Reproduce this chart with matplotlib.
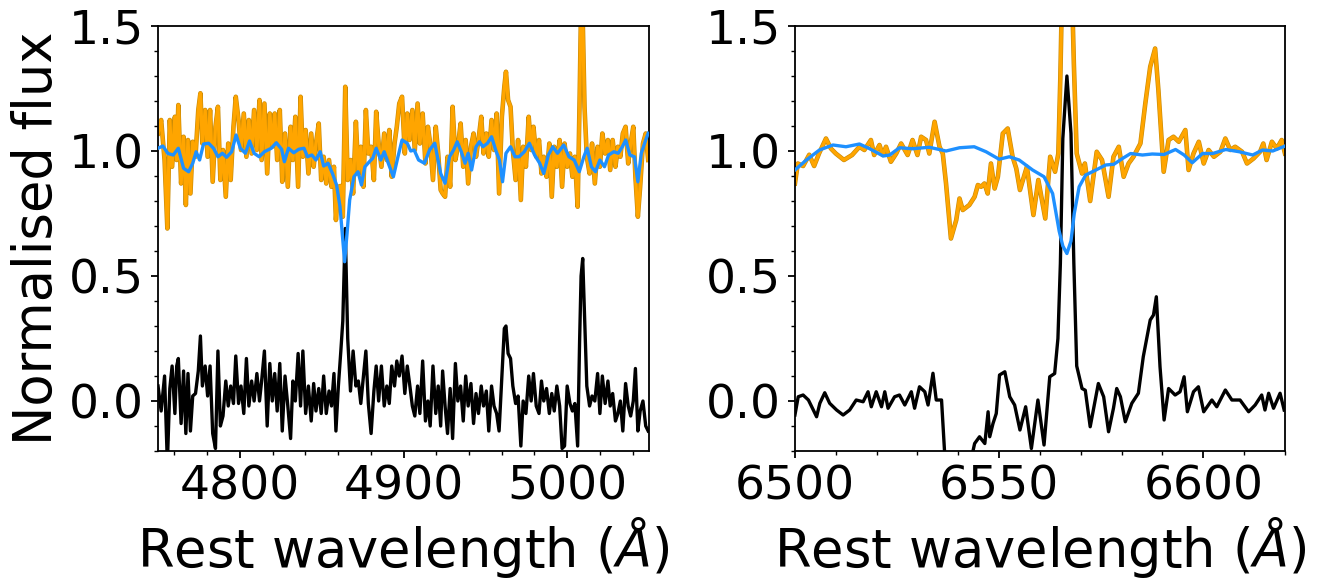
"""
Stellar-continuum fit around H-beta and H-alpha: observed spectrum, model and residual.
"""

import numpy as np
import matplotlib
matplotlib.use("Agg")
import matplotlib.pyplot as plt
import matplotlib.patheffects as pe
from matplotlib.ticker import MultipleLocator

# ---- H-beta / [OIII] window ----
wl_hb = [
    4750.0, 4751.9, 4754.0, 4755.7, 4757.2, 4758.6, 4760.3, 4761.4, 4762.4, 4764.1,
    4765.6, 4767.0, 4768.3, 4769.8, 4771.2, 4772.9, 4774.6, 4775.9, 4777.1, 4778.8,
    4780.3, 4781.8, 4783.4, 4785.1, 4786.6, 4788.1, 4789.7, 4791.4, 4792.9, 4794.4,
    4796.1, 4797.5, 4799.2, 4800.7, 4802.4, 4804.0, 4805.5, 4807.2, 4808.7, 4810.4,
    4812.0, 4813.3, 4815.0, 4816.7, 4818.3, 4819.8, 4821.3, 4822.8, 4824.4, 4825.9,
    4827.6, 4829.3, 4831.0, 4832.4, 4833.9, 4835.6, 4837.1, 4838.5, 4840.2, 4841.9,
    4843.6, 4845.1, 4846.5, 4848.2, 4849.7, 4851.2, 4852.8, 4854.5, 4856.0, 4857.5,
    4858.7, 4860.2, 4861.7, 4862.9, 4864.4, 4865.9, 4867.6, 4869.2, 4870.9, 4872.4,
    4873.9, 4875.5, 4877.0, 4878.5, 4880.2, 4881.9, 4883.3, 4884.8, 4886.5, 4888.2,
    4889.8, 4891.3, 4892.8, 4894.5, 4895.9, 4897.4, 4899.1, 4900.8, 4902.3, 4903.7,
    4905.4, 4906.9, 4908.6, 4910.0, 4911.7, 4913.4, 4914.9, 4916.3, 4918.0, 4919.7,
    4921.2, 4922.7, 4923.9, 4925.4, 4926.9, 4928.5, 4930.0, 4931.7, 4933.2, 4934.9,
    4936.5, 4938.0, 4939.5, 4941.2, 4942.8, 4944.3, 4945.8, 4947.5, 4948.9, 4950.6,
    4952.1, 4953.8, 4955.3, 4956.9, 4958.4, 4960.1, 4961.6, 4962.6, 4963.9, 4965.4,
    4966.8, 4968.5, 4970.0, 4971.7, 4973.1, 4974.8, 4976.5, 4978.0, 4979.4, 4981.1,
    4982.8, 4984.3, 4985.7, 4987.4, 4989.1, 4990.6, 4992.1, 4993.7, 4995.4, 4996.9,
    4998.4, 5000.0, 5001.7, 5003.2, 5004.7, 5006.4, 5007.6, 5008.5, 5009.5, 5010.6,
    5012.0, 5013.7, 5015.2, 5016.9, 5018.6, 5020.0, 5021.5, 5023.2, 5024.9, 5026.3,
    5027.8, 5029.5, 5031.0, 5032.5, 5034.0, 5035.7, 5037.3, 5038.8, 5040.4, 5041.7,
    5043.2, 5044.6, 5046.3, 5048.0, 5049.5,
]
flux_hb = [
    1.07, 1.124, 0.964, 0.69, 1.124, 0.937, 1.137, 0.964, 1.184, 0.87,
    1.057, 0.784, 1.044, 0.83, 1.037, 0.977, 1.164, 1.231, 1.03, 1.164,
    0.977, 1.164, 0.877, 1.097, 1.177, 0.884, 1.004, 0.817, 1.03, 0.884,
    1.097, 1.217, 1.124, 1.004, 1.15, 0.977, 1.124, 0.99, 1.164, 1.004,
    1.204, 0.964, 1.19, 0.91, 1.15, 1.017, 1.15, 0.964, 1.164, 0.877,
    1.07, 0.857, 1.097, 0.964, 1.137, 0.857, 1.217, 0.977, 1.084, 0.91,
    1.07, 0.937, 1.03, 1.11, 0.884, 0.977, 0.87, 0.964, 0.857, 0.937,
    0.724, 0.857, 0.86, 0.737, 1.257, 0.884, 0.964, 0.83, 1.117, 0.91,
    1.017, 0.857, 1.164, 0.99, 1.017, 0.884, 1.157, 1.03, 0.937, 1.07,
    0.964, 1.084, 0.897, 1.03, 1.097, 1.19, 1.217, 0.99, 1.15, 1.044,
    1.164, 1.004, 1.19, 1.03, 1.15, 0.95, 1.097, 1.03, 0.884, 1.097,
    0.99, 0.844, 0.83, 0.817, 0.977, 0.857, 1.177, 0.964, 1.017, 1.11,
    0.937, 1.044, 0.87, 1.017, 1.07, 0.977, 1.044, 1.137, 0.99, 1.07,
    0.977, 1.124, 1.004, 1.15, 0.83, 1.137, 1.257, 1.317, 1.204, 1.177,
    1.004, 0.884, 1.044, 0.804, 1.017, 0.937, 1.137, 1.004, 1.097, 0.977,
    1.044, 0.91, 0.977, 0.897, 1.03, 0.817, 1.017, 0.937, 1.044, 0.857,
    1.03, 0.937, 0.99, 0.897, 0.977, 0.777, 1.204, 1.58, 1.53, 1.177,
    0.977, 0.91, 1.03, 0.87, 1.017, 0.937, 1.07, 0.99, 1.044, 0.924,
    1.044, 0.937, 1.017, 0.977, 1.07, 1.097, 0.95, 1.03, 1.097, 0.897,
    0.737, 0.857, 1.03, 1.07, 0.964,
]
resid_hb = [
    0.06, -0.04, 0.10, -0.25, 0.05, 0.14, -0.05, 0.14, 0.17, -0.09,
    0.12, -0.13, 0.11, -0.12, 0.02, 0.03, 0.12, 0.26, 0.06, 0.14,
    0.02, 0.14, -0.13, -0.19, 0.20, -0.10, -0.06, 0.08, -0.02, 0.06,
    -0.01, 0.18, -0.01, 0.06, -0.05, 0.17, -0.02, 0.08, 0.0, 0.11,
    0.0, 0.08, 0.20, -0.10, 0.15, 0.0, 0.11, -0.04, 0.15, -0.12,
    0.10, -0.02, -0.15, 0.08, 0.0, 0.19, -0.02, 0.20, -0.05, 0.06,
    -0.08, 0.07, -0.04, 0.05, -0.05, 0.10, -0.05, 0.04, -0.02, 0.11,
    -0.12, 0.06, 0.20, 0.32, 0.69, 0.25, 0.04, 0.20, 0.06, 0.08,
    -0.01, 0.10, 0.20, -0.01, -0.13, 0.04, 0.14, 0.0, 0.14, -0.02,
    0.06, -0.01, 0.14, 0.06, 0.16, 0.10, 0.18, 0.03, 0.14, 0.07,
    -0.02, -0.06, 0.06, -0.05, 0.16, -0.08, 0.0, -0.10, 0.14, -0.05,
    0.06, -0.10, 0.12, -0.02, -0.13, 0.05, -0.15, 0.15, 0.0, 0.06,
    -0.08, 0.10, -0.02, 0.07, -0.09, 0.03, -0.05, 0.06, -0.02, 0.04,
    -0.12, 0.06, -0.02, -0.05, -0.12, 0.10, 0.29, 0.30, 0.19, 0.17,
    0.06, -0.01, 0.02, -0.18, 0.0, -0.05, 0.10, 0.0, 0.11, -0.02,
    -0.05, 0.08, 0.0, 0.05, -0.05, 0.03, -0.04, 0.06, -0.02, -0.19,
    -0.18, 0.06, -0.01, -0.04, -0.01, -0.18, 0.24, 0.50, 0.57, 0.35,
    0.06, -0.02, 0.02, 0.0, 0.11, -0.05, 0.10, -0.01, 0.08, -0.02,
    0.03, -0.08, -0.05, 0.0, -0.12, 0.07, -0.02, -0.06, 0.0, 0.13,
    -0.12, -0.04, 0.0, -0.10, -0.12,
]
wl_hb_model = [
    4750.0, 4752.9, 4756.1, 4759.3, 4762.4, 4765.6, 4768.7, 4771.2, 4773.3, 4775.4,
    4777.8, 4780.9, 4783.9, 4786.6, 4789.3, 4791.9, 4795.0, 4797.7, 4800.3, 4803.4,
    4805.9, 4808.7, 4811.8, 4815.0, 4819.2, 4822.3, 4825.5, 4827.2, 4829.7, 4832.9,
    4836.0, 4839.2, 4841.3, 4844.0, 4846.5, 4849.1, 4851.2, 4853.9, 4856.6, 4859.1,
    4861.2, 4862.9, 4864.0, 4865.5, 4867.1, 4869.7, 4872.2, 4874.3, 4876.4, 4879.1,
    4881.2, 4883.3, 4886.1, 4888.2, 4890.7, 4893.8, 4896.6, 4899.1, 4902.3, 4904.4,
    4906.5, 4909.2, 4912.8, 4915.9, 4919.1, 4922.7, 4925.4, 4928.1, 4930.6, 4932.8,
    4935.3, 4937.6, 4939.5, 4941.6, 4944.3, 4946.4, 4948.5, 4951.3, 4953.8, 4956.3,
    4958.6, 4960.5, 4962.6, 4965.4, 4968.1, 4970.6, 4973.8, 4976.9, 4980.1, 4983.2,
    4985.7, 4988.5, 4991.2, 4994.1, 4997.9, 5001.1, 5004.3, 5007.4, 5010.2, 5012.2,
    5014.8, 5017.3, 5020.0, 5022.8, 5025.3, 5028.5, 5031.2, 5033.7, 5035.8, 5038.3,
    5041.1, 5043.2, 5045.3, 5048.0, 5049.5,
]
model_hb = [
    1.011, 1.02, 0.99, 0.984, 1.011, 0.931, 0.917, 0.951, 0.997, 0.964,
    1.028, 1.031, 1.011, 0.977, 0.991, 0.975, 0.997, 1.064, 1.011, 0.991,
    1.04, 0.991, 0.977, 0.997, 1.011, 1.033, 1.007, 0.957, 1.011, 0.993,
    1.007, 1.011, 0.977, 0.984, 0.964, 0.997, 0.94, 0.951, 0.91, 0.864,
    0.777, 0.644, 0.557, 0.671, 0.804, 0.897, 0.917, 0.864, 0.937, 0.957,
    0.971, 1.011, 0.964, 0.997, 0.951, 0.897, 0.977, 1.044, 1.031, 1.0,
    1.004, 0.964, 0.951, 1.004, 1.031, 0.91, 0.871, 0.977, 1.004, 1.037,
    0.997, 0.951, 0.991, 0.924, 1.017, 1.037, 1.017, 1.031, 1.057, 1.004,
    0.964, 0.877, 0.991, 1.017, 0.977, 0.977, 0.997, 1.031, 0.984, 0.951,
    0.91, 0.984, 1.017, 0.991, 1.024, 0.977, 0.964, 0.917, 0.977, 1.011,
    0.937, 0.917, 0.964, 0.937, 0.984, 0.997, 0.991, 1.017, 1.044, 0.984,
    0.977, 0.877, 0.991, 1.044, 1.071,
]

# ---- H-alpha / [NII] window ----
wl_ha = [
    6500.0, 6500.7, 6502.0, 6503.5, 6504.7, 6505.9, 6507.6, 6508.8, 6510.0, 6512.0,
    6514.0, 6515.8, 6517.0, 6518.6, 6519.4, 6520.7, 6521.5, 6522.3, 6523.5, 6524.8,
    6526.0, 6527.6, 6528.8, 6530.0, 6530.9, 6532.1, 6532.9, 6534.2, 6535.4, 6536.2,
    6537.0, 6538.2, 6539.5, 6540.3, 6541.1, 6542.7, 6544.0, 6544.8, 6545.6, 6546.4,
    6547.2, 6548.0, 6548.9, 6549.7, 6550.9, 6552.1, 6553.3, 6554.2, 6555.1, 6556.8,
    6558.4, 6559.6, 6561.3, 6562.5, 6563.7, 6564.5, 6565.0, 6565.6, 6566.6, 6567.6,
    6568.3, 6569.0, 6570.3, 6571.0, 6572.3, 6573.9, 6575.2, 6576.8, 6578.0, 6579.3,
    6580.5, 6581.7, 6582.9, 6584.6, 6585.8, 6587.0, 6588.2, 6589.0, 6590.3, 6591.5,
    6592.7, 6594.0, 6595.6, 6596.4, 6597.6, 6598.9, 6600.1, 6601.3, 6602.6, 6604.2,
    6605.4, 6606.6, 6607.8, 6609.5, 6610.7, 6612.3, 6613.9, 6614.7, 6615.5, 6616.8,
    6618.0, 6619.2, 6620.0,
]
flux_ha = [
    0.87, 0.95, 0.94, 0.985, 0.94, 0.99, 1.05, 1.01, 0.99, 0.964,
    0.984, 1.017, 1.004, 1.044, 0.984, 1.024, 0.984, 1.017, 0.957, 0.99,
    1.03, 0.984, 1.044, 0.984, 1.057, 1.044, 0.99, 1.117, 1.017, 0.99,
    0.87, 0.65, 0.724, 0.81, 0.764, 0.784, 0.817, 0.864, 0.857, 0.87,
    0.83, 0.95, 0.85, 0.897, 1.07, 1.09, 0.977, 0.93, 0.844, 0.937,
    0.744, 0.884, 0.73, 0.977, 0.917, 0.99, 1.30, 1.80, 1.90, 1.80,
    1.35, 0.99, 0.91, 0.95, 0.80, 0.997, 0.964, 0.817, 0.977, 1.017,
    0.897, 0.95, 0.977, 1.03, 1.19, 1.337, 1.41, 1.244, 0.917, 1.044,
    1.057, 1.037, 1.084, 0.924, 0.99, 1.037, 0.95, 1.004, 0.977, 0.997,
    1.05, 1.004, 1.017, 0.997, 0.95, 0.97, 0.997, 1.03, 0.964, 1.037,
    1.01, 1.044, 0.99,
]
wl_ha_res = [
    6500.0, 6500.8, 6502.0, 6503.3, 6504.5, 6505.3, 6506.1, 6507.3, 6508.5, 6510.2,
    6511.8, 6513.4, 6515.0, 6516.7, 6517.9, 6518.7, 6519.9, 6521.2, 6522.0, 6522.8,
    6524.4, 6525.6, 6526.9, 6528.5, 6529.3, 6530.5, 6531.8, 6532.6, 6533.8, 6534.6,
    6535.9, 6536.7, 6538.2, 6539.5, 6540.3, 6541.1, 6542.7, 6543.6, 6544.0, 6545.2,
    6546.5, 6547.3, 6547.7, 6548.5, 6549.3, 6550.1, 6551.4, 6552.6, 6553.8, 6555.1,
    6556.5, 6557.9, 6559.5, 6561.0, 6562.4, 6563.6, 6564.4, 6565.0, 6565.6, 6566.6,
    6567.6, 6568.3, 6569.0, 6570.3, 6571.1, 6572.3, 6574.3, 6575.6, 6576.8, 6578.0,
    6578.8, 6579.7, 6580.9, 6582.5, 6584.1, 6585.3, 6587.0, 6587.8, 6588.5, 6589.4,
    6590.4, 6591.5, 6593.1, 6594.3, 6595.3, 6596.1, 6597.6, 6598.8, 6600.1, 6602.1,
    6603.3, 6605.4, 6607.0, 6609.0, 6611.1, 6612.7, 6614.3, 6615.1, 6616.0, 6617.2,
    6618.8, 6619.8,
]
resid_ha = [
    -0.056, 0.017, 0.024, 0.004, -0.036, -0.063, -0.009, 0.033, -0.009, -0.036,
    -0.056, -0.036, 0.004, -0.003, 0.037, -0.023, 0.037, -0.023, 0.037, -0.029,
    0.017, 0.024, -0.016, 0.037, -0.029, 0.057, 0.037, -0.016, 0.111, 0.004,
    0.004, -0.22, -0.35, -0.29, -0.22, -0.25, -0.23, -0.20, -0.17, -0.143,
    -0.17, -0.043, -0.143, -0.09, -0.05, 0.104, 0.117, 0.017, -0.016, -0.116,
    -0.023, -0.19, 0.004, -0.176, 0.097, 0.11, 0.25, 0.55, 1.05, 1.30,
    1.07, 0.55, 0.14, 0.05, 0.043, -0.103, 0.07, 0.017, -0.123, -0.029,
    0.05, 0.017, -0.083, -0.009, 0.031, 0.177, 0.324, 0.344, 0.417, 0.137,
    -0.076, 0.05, 0.024, 0.037, 0.097, -0.043, 0.037, 0.057, -0.043, 0.004,
    -0.023, 0.044, 0.004, 0.004, -0.043, -0.016, 0.024, -0.036, 0.031, -0.029,
    0.031, -0.036,
]
wl_ha_model = [
    6500.0, 6502.8, 6506.0, 6509.3, 6512.5, 6515.8, 6518.2, 6521.6, 6523.2, 6525.6,
    6528.8, 6532.9, 6537.0, 6540.3, 6543.9, 6546.8, 6550.0, 6552.5, 6554.9, 6558.2,
    6561.0, 6563.1, 6564.7, 6565.6, 6566.6, 6567.6, 6568.4, 6569.6, 6571.2, 6573.7,
    6576.1, 6578.1, 6580.2, 6582.2, 6585.1, 6587.5, 6590.4, 6593.2, 6595.3, 6597.3,
    6599.8, 6602.3, 6605.5, 6608.8, 6612.1, 6614.5, 6617.0, 6619.6, 6620.0,
]
model_ha = [
    0.924, 0.964, 1.004, 1.024, 1.017, 1.028, 1.01, 0.98, 0.984, 1.013,
    1.009, 1.015, 1.0, 1.013, 1.017, 0.997, 0.967, 0.977, 0.964, 0.924,
    0.897, 0.83, 0.68, 0.62, 0.59, 0.64, 0.75, 0.857, 0.904, 0.924,
    0.944, 0.947, 0.97, 0.99, 0.984, 0.988, 0.986, 1.006, 0.984, 0.953,
    0.99, 0.99, 1.006, 0.997, 0.984, 1.004, 1.0, 1.017, 1.02,
]

TICK_SIZE = 34
LABEL_SIZE = 38
LW = 2.4
orange_edge = [pe.Stroke(linewidth=LW + 0.9, foreground="#c98a06"), pe.Normal()]


def draw_panel(ax, wl, flux, wl_res, resid, wl_mod, model, xlim, xmajor, xminor):
    ax.plot(wl, flux, color="orange", lw=LW, path_effects=orange_edge, zorder=2)
    ax.plot(wl_res, resid, color="black", lw=LW, zorder=3)
    ax.plot(wl_mod, model, color="dodgerblue", lw=LW, zorder=4)

    ax.set_xlim(*xlim)
    ax.set_ylim(-0.2, 1.5)
    ax.xaxis.set_major_locator(MultipleLocator(xmajor))
    ax.xaxis.set_minor_locator(MultipleLocator(xminor))
    ax.yaxis.set_major_locator(MultipleLocator(0.5))
    ax.yaxis.set_minor_locator(MultipleLocator(0.1))
    ax.tick_params(which="major", length=5, width=1.3, pad=5, labelsize=TICK_SIZE)
    ax.tick_params(which="minor", length=3.2, width=1.0)
    for sp in ax.spines.values():
        sp.set_linewidth(1.3)
    ax.set_xlabel(r"Rest wavelength ($\AA$)", fontsize=LABEL_SIZE)


fig = plt.figure(figsize=(13.28, 5.83), dpi=100)
ax1 = fig.add_axes([0.119, 0.2264, 0.3697, 0.729])
ax2 = fig.add_axes([0.5986, 0.2264, 0.369, 0.729])

draw_panel(ax1, wl_hb, flux_hb, wl_hb, resid_hb, wl_hb_model, model_hb,
           (4750, 5050), 100, 20)
draw_panel(ax2, wl_ha, flux_ha, wl_ha_res, resid_ha, wl_ha_model, model_ha,
           (6500, 6620), 50, 10)

ax1.set_ylabel("Normalised flux", fontsize=LABEL_SIZE)

fig.savefig("out.png", dpi=100)
